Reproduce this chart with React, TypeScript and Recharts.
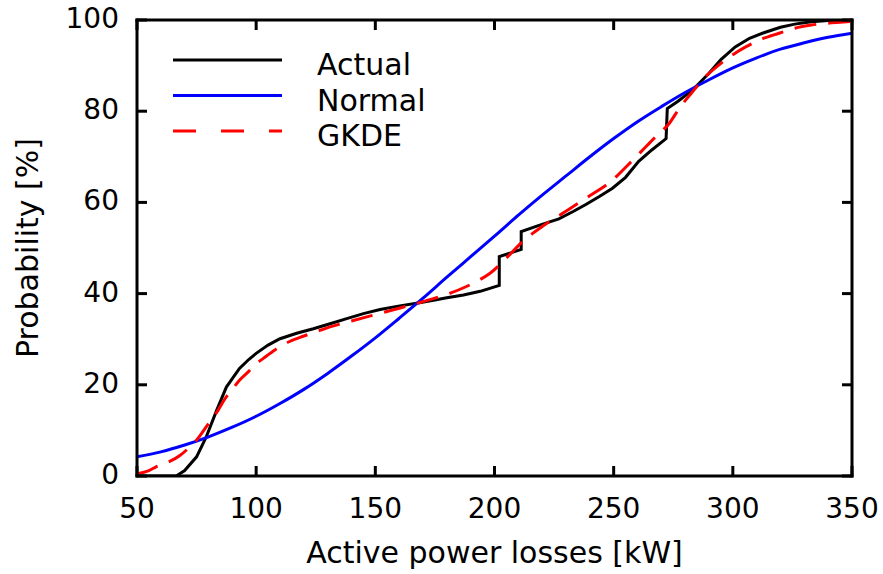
import React from 'react';
import { Line, LineChart, XAxis, YAxis } from 'recharts';

// Cumulative distribution of active power losses.

const X_TICKS = [50, 100, 150, 200, 250, 300, 350];
const Y_TICKS = [0, 20, 40, 60, 80, 100];

const actualX = [
  50, 60, 66.5, 70, 75, 79, 83.5, 87.5, 93, 97, 100, 105, 110, 117, 124, 131, 138, 145, 152, 159,
  168.5, 175, 180, 187, 194, 202, 202, 211.2, 211.2, 219, 227, 233, 238.5, 244, 249.5, 255, 260.5,
  266, 272, 272.5, 277, 283, 290, 295, 301, 307, 313, 320, 326, 333, 340, 350,
];
const actualY = [
  0, 0, 0, 1.2, 4.2, 8.5, 14.5, 19.5, 23.6, 25.6, 26.9, 28.7, 30.1, 31.3, 32.3, 33.4, 34.5, 35.6,
  36.5, 37.2, 38, 38.6, 39.1, 39.7, 40.5, 41.8, 48.1, 49.7, 53.6, 55, 56.4, 58, 59.6, 61.3, 63.1,
  65.5, 69, 71.5, 74, 80.6, 82.2, 84.6, 88.3, 91.3, 94.1, 96, 97.2, 98.4, 99.1, 99.6, 99.9, 100,
];

const normalX = [
  50, 60, 70, 80, 90, 100, 110, 120, 130, 140, 150, 160, 170, 180, 190, 200, 210, 220, 230, 240,
  250, 260, 270, 280, 290, 300, 310, 320, 330, 340, 350,
];
const normalY = [
  4.2, 5.3, 6.8, 8.6, 10.7, 13.1, 15.9, 19, 22.5, 26.3, 30.3, 34.6, 39, 43.6, 48.1, 52.6, 57.2, 61.6,
  65.8, 70, 74, 77.7, 81, 84.1, 86.9, 89.5, 91.7, 93.6, 95, 96.2, 97.1,
];

const gkdeX = [
  50, 55, 58, 63, 68, 72, 75, 80, 84, 87, 90, 93, 97, 100, 103, 108, 114, 120, 126, 131, 140, 150,
  160, 168.5, 175, 182, 188, 193, 198, 205, 212, 220, 228.6, 238, 249.5, 256, 263.5, 268, 273.3,
  277.5, 283, 288.6, 295, 300, 305.4, 312, 319.4, 326, 333, 340, 345, 350,
];
const gkdeY = [
  0.5, 1.2, 2, 3, 4.5, 6.3, 7.9, 11.5, 14.4, 17, 19, 21, 23, 24.6, 25.8, 27.7, 29.5, 30.7, 31.8,
  32.7, 34, 35.4, 36.8, 38, 39, 40.2, 41.5, 42.8, 44.4, 47.8, 51.5, 54.7, 57.6, 60.8, 64.9, 68.2,
  72.2, 74.6, 77.3, 80.6, 84.2, 87.6, 90.5, 92.4, 94.1, 95.8, 97.1, 98.2, 98.9, 99.3, 99.5, 99.7,
];

const SERIES = [
  { name: 'Actual', color: '#000000', dash: undefined, curve: 'linear' as const, xs: actualX, ys: actualY },
  { name: 'Normal', color: '#0000ff', dash: undefined, curve: 'monotone' as const, xs: normalX, ys: normalY },
  { name: 'GKDE', color: '#ff0000', dash: '22 12', curve: 'monotone' as const, xs: gkdeX, ys: gkdeY },
];

const FONT = '"DejaVu Sans", sans-serif';
const AXIS_LINE = { stroke: '#000', strokeWidth: 3, strokeLinecap: 'square' as const };

const toPoints = (xs: number[], ys: number[]) => xs.map((x, i) => ({ x, y: ys[i] }));

const bottomTick = (props: any) => {
  const { x, y, payload } = props;
  return (
    <g key={`b-${payload.value}`}>
      <line x1={x} x2={x} y1={y} y2={y - 10} stroke="#000" strokeWidth={3} />
      <text x={x} y={y + 42} textAnchor="middle" fontSize={28} fontFamily={FONT} fill="#000">
        {payload.value}
      </text>
    </g>
  );
};

const topTick = (props: any) => {
  const { x, y, payload } = props;
  return <line key={`t-${payload.value}`} x1={x} x2={x} y1={y} y2={y + 10} stroke="#000" strokeWidth={3} />;
};

const leftTick = (props: any) => {
  const { x, y, payload } = props;
  return (
    <g key={`l-${payload.value}`}>
      <line x1={x} x2={x + 10} y1={y} y2={y} stroke="#000" strokeWidth={3} />
      <text x={x - 18} y={y + 8} textAnchor="end" fontSize={28} fontFamily={FONT} fill="#000">
        {payload.value}
      </text>
    </g>
  );
};

const rightTick = (props: any) => {
  const { x, y, payload } = props;
  return <line key={`r-${payload.value}`} x1={x} x2={x - 10} y1={y} y2={y} stroke="#000" strokeWidth={3} />;
};

// axis titles placed from the axis viewBox
const xTitle = (props: any) => {
  const vb = props.viewBox;
  return (
    <text x={vb.x + vb.width / 2} y={vb.y + 87} textAnchor="middle" fontSize={30} fontFamily={FONT} fill="#000">
      Active power losses [kW]
    </text>
  );
};

const yTitle = (props: any) => {
  const vb = props.viewBox;
  const cx = 38;
  const cy = vb.y + vb.height / 2;
  return (
    <text
      x={cx}
      y={cy}
      transform={`rotate(-90 ${cx} ${cy})`}
      textAnchor="middle"
      fontSize={30}
      fontFamily={FONT}
      fill="#000"
    >
      Probability [%]
    </text>
  );
};

function LegendBox() {
  return (
    <svg width={320} height={130} style={{ position: 'absolute', left: 160, top: 30 }}>
      {SERIES.map((s, i) => {
        const ly = 30 + i * 35.5;
        return (
          <g key={s.name}>
            <line
              x1={13}
              x2={122}
              y1={ly}
              y2={ly}
              stroke={s.color}
              strokeWidth={3}
              strokeDasharray={s.dash ? '23 25' : undefined}
            />
            <text x={157} y={ly + 15} fontSize={30} fontFamily={FONT} fill="#000">
              {s.name}
            </text>
          </g>
        );
      })}
    </svg>
  );
}

export default function App() {
  return (
    <div style={{ position: 'absolute', left: 0, top: 0, width: 883, height: 574, background: '#fff' }}>
      <LineChart width={883} height={574} margin={{ top: 19, right: 30, left: 37, bottom: 38 }}>
        <XAxis
          xAxisId="b"
          type="number"
          dataKey="x"
          domain={[50, 350]}
          ticks={X_TICKS}
          allowDataOverflow
          height={60}
          tickSize={0}
          tickMargin={0}
          axisLine={AXIS_LINE}
          tick={bottomTick}
          label={xTitle}
        />
        <XAxis
          xAxisId="t"
          orientation="top"
          type="number"
          dataKey="x"
          domain={[50, 350]}
          ticks={X_TICKS}
          allowDataOverflow
          height={1}
          tickSize={0}
          tickMargin={0}
          axisLine={AXIS_LINE}
          tick={topTick}
        />
        <YAxis
          yAxisId="l"
          type="number"
          domain={[0, 100]}
          ticks={Y_TICKS}
          allowDataOverflow
          width={100}
          tickSize={0}
          tickMargin={0}
          axisLine={AXIS_LINE}
          tick={leftTick}
          label={yTitle}
        />
        <YAxis
          yAxisId="r"
          orientation="right"
          type="number"
          domain={[0, 100]}
          ticks={Y_TICKS}
          allowDataOverflow
          width={1}
          tickSize={0}
          tickMargin={0}
          axisLine={AXIS_LINE}
          tick={rightTick}
        />
        {/* invisible series so the mirrored top/right axes get rendered */}
        <Line
          xAxisId="t"
          yAxisId="r"
          data={toPoints(normalX, normalY)}
          dataKey="y"
          stroke="none"
          dot={false}
          activeDot={false}
          legendType="none"
          isAnimationActive={false}
        />
        {SERIES.map((s) => (
          <Line
            key={s.name}
            xAxisId="b"
            yAxisId="l"
            data={toPoints(s.xs, s.ys)}
            dataKey="y"
            name={s.name}
            type={s.curve}
            stroke={s.color}
            strokeWidth={3}
            strokeDasharray={s.dash}
            dot={false}
            activeDot={false}
            isAnimationActive={false}
          />
        ))}
      </LineChart>
      <LegendBox />
    </div>
  );
}
